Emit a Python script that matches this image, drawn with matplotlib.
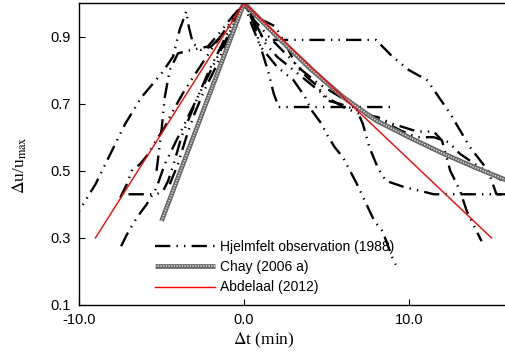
import matplotlib
matplotlib.use("Agg")
import matplotlib.pyplot as plt
from matplotlib.legend_handler import HandlerTuple

plt.rcParams['font.family'] = ['Liberation Sans', 'DejaVu Sans']
plt.rcParams['mathtext.fontset'] = 'stix'

# Hjelmfelt observed events (minutes from peak, normalised velocity)
hj1_t = [-10.5, -10.0, -9.0, -8.0, -7.2, -6.2, -5.0, -4.3, -3.9, -3.5, -3.35, -3.1, -2.6, -2.0, -1.2, -0.5, 0.0,
         0.5, 1.2, 8.0, 9.0, 10.0, 11.1, 12.5, 13.7, 14.8, 15.3, 16.0]
hj1_v = [0.345, 0.38, 0.46, 0.56, 0.64, 0.72, 0.79, 0.84, 0.92, 0.975, 0.93, 0.88, 0.86, 0.87, 0.91, 0.96, 1.0,
         0.95, 0.89, 0.89, 0.84, 0.80, 0.77, 0.67, 0.57, 0.50, 0.43, 0.43]

hj2_t = [-7.45, -7.3, -7.1, -6.5, -5.9, -5.3, -4.8, -4.2, -3.6, -3.0, -2.4, -1.8, -1.2, -0.6, 0.0,
         0.5, 1.0, 2.0, 2.5, 3.0, 3.7, 4.1, 4.7, 5.0, 5.5, 6.0, 6.85, 7.9, 8.4, 9.0, 9.2]
hj2_v = [0.275, 0.29, 0.31, 0.36, 0.40, 0.45, 0.52, 0.58, 0.64, 0.70, 0.76, 0.82, 0.88, 0.94, 1.0,
         0.93, 0.87, 0.81, 0.79, 0.77, 0.72, 0.68, 0.64, 0.61, 0.57, 0.54, 0.46, 0.35, 0.32, 0.24, 0.22]

hj3_t = [-7.0, -6.0, -5.3, -4.9, -4.6, -4.2, -3.8, -3.3, -2.8, -2.2, -1.5, -0.8, 0.0,
         0.4, 1.0, 1.5, 1.8, 2.1, 9.2]
hj3_v = [0.43, 0.43, 0.43, 0.44, 0.47, 0.53, 0.60, 0.66, 0.72, 0.79, 0.86, 0.93, 1.0,
         0.97, 0.87, 0.79, 0.73, 0.69, 0.69]

hj4_t = [-7.5, -7.1, -6.8, -6.3, -5.8, -5.2, -4.8, -4.4, -3.6, -2.8, -2.0, -1.0, 0.0,
         0.5, 1.3, 1.9, 2.6, 3.2, 3.8, 4.5, 5.0, 5.8, 6.85, 7.2, 7.6, 8.1, 8.6, 9.8, 10.7, 11.5, 16.0]
hj4_v = [0.42, 0.46, 0.50, 0.52, 0.55, 0.60, 0.63, 0.67, 0.74, 0.80, 0.86, 0.93, 1.0,
         0.96, 0.945, 0.93, 0.87, 0.81, 0.78, 0.75, 0.71, 0.70, 0.68, 0.64, 0.57, 0.51, 0.47, 0.45, 0.44, 0.43, 0.43]

hj5_t = [-4.5, -4.0, -3.5, -3.0, -2.4, -1.8, -1.2, -0.6, 0.0,
         0.7, 1.3, 2.0, 3.0, 4.0, 5.0, 6.0, 7.0, 8.1, 9.0, 10.5, 11.5, 12.0, 12.5, 13.1, 13.5, 14.4]
hj5_v = [0.46, 0.52, 0.60, 0.67, 0.74, 0.80, 0.87, 0.93, 1.0,
         0.94, 0.88, 0.84, 0.80, 0.76, 0.72, 0.69, 0.67, 0.66, 0.64, 0.617, 0.617, 0.59, 0.50, 0.44, 0.38, 0.29]

hj6_t = [-5.3, -5.0, -4.8, -4.5, -4.0, -3.2, -2.2, -1.5, -0.7, 0.0,
         0.6, 1.5, 2.5, 3.5, 4.5, 5.5, 6.5, 7.5, 8.5, 9.5, 10.5, 11.5, 12.4, 13.1, 14.0, 15.0, 16.0]
hj6_v = [0.50, 0.62, 0.72, 0.80, 0.85, 0.86, 0.87, 0.91, 0.96, 1.0,
         0.95, 0.90, 0.85, 0.80, 0.76, 0.73, 0.70, 0.67, 0.645, 0.62, 0.60, 0.60, 0.585, 0.55, 0.52, 0.49, 0.46]

# Chay (2006 a)
chay_t = [-5.0, 0.0, 2.0, 4.0, 6.0, 8.0, 10.0, 12.0, 14.0, 16.0]
chay_v = [0.35, 1.0, 0.90, 0.805, 0.72, 0.65, 0.60, 0.553, 0.51, 0.47]

# Abdelaal (2012)
abd_t = [-9.0, 0.0, 15.0]
abd_v = [0.30, 1.0, 0.30]

hj_series = [(hj1_t, hj1_v), (hj2_t, hj2_v), (hj3_t, hj3_v),
             (hj4_t, hj4_v), (hj5_t, hj5_v), (hj6_t, hj6_v)]

x_ticks = [-10.0, 0.0, 10.0]
y_ticks = [0.1, 0.3, 0.5, 0.7, 0.9]

fig = plt.figure(figsize=(5.06, 3.6), dpi=100)
ax = fig.add_axes([79/506, 55/360, 427/506, 302/360])

dash_style = (0, (6.5, 2.6, 0.6, 2.6, 0.6, 2.6))
hj_handle = None
for t, v in hj_series:
    ln, = ax.plot(t, v, color='black', lw=1.7, linestyle=dash_style)
    if hj_handle is None:
        hj_handle = ln

ch1, = ax.plot(chay_t, chay_v, color='#666666', lw=3.4, solid_capstyle='butt')
ch2, = ax.plot(chay_t, chay_v, color='#dcdcdc', lw=1.2, linestyle=(0, (0.8, 0.8)))
ab, = ax.plot(abd_t, abd_v, color='red', lw=1.0)

ax.set_xlim(-10, (506-244)/16.5)
ax.set_ylim(0.1, 1.0)
ax.set_xticks(x_ticks)
ax.set_yticks(y_ticks)
ax.set_xticklabels([f"{x:.1f}" for x in x_ticks])
ax.set_yticklabels([f"{y:.1f}" for y in y_ticks])
ax.tick_params(direction='in', length=4, labelsize=10.5, colors='black', pad=6)
ax.spines['right'].set_visible(False)
for s in ['left', 'bottom', 'top']:
    ax.spines[s].set_linewidth(1.0)

leg = ax.legend([hj_handle, (ch1, ch2), ab],
                ['Hjelmfelt observation (1988)', 'Chay (2006 a)', 'Abdelaal (2012)'],
                handler_map={tuple: HandlerTuple(ndivide=1, pad=0)},
                loc='upper left', bbox_to_anchor=(155/506, (360-240)/360),
                bbox_transform=fig.transFigure, frameon=False,
                fontsize=10, handlelength=4.3, handletextpad=0.4,
                labelspacing=0.45, borderpad=0, borderaxespad=0)

fig.text(264/506, (360-340)/360, r'$\Delta$t (min)', ha='center', va='center',
         fontsize=12.5, family='Liberation Serif')
fig.text(20/506, (360-165)/360, r'$\Delta$u/u$_{\mathrm{max}}$', ha='center', va='center',
         rotation=90, fontsize=12.5, family='Liberation Serif')

fig.savefig('out.png', dpi=100)
